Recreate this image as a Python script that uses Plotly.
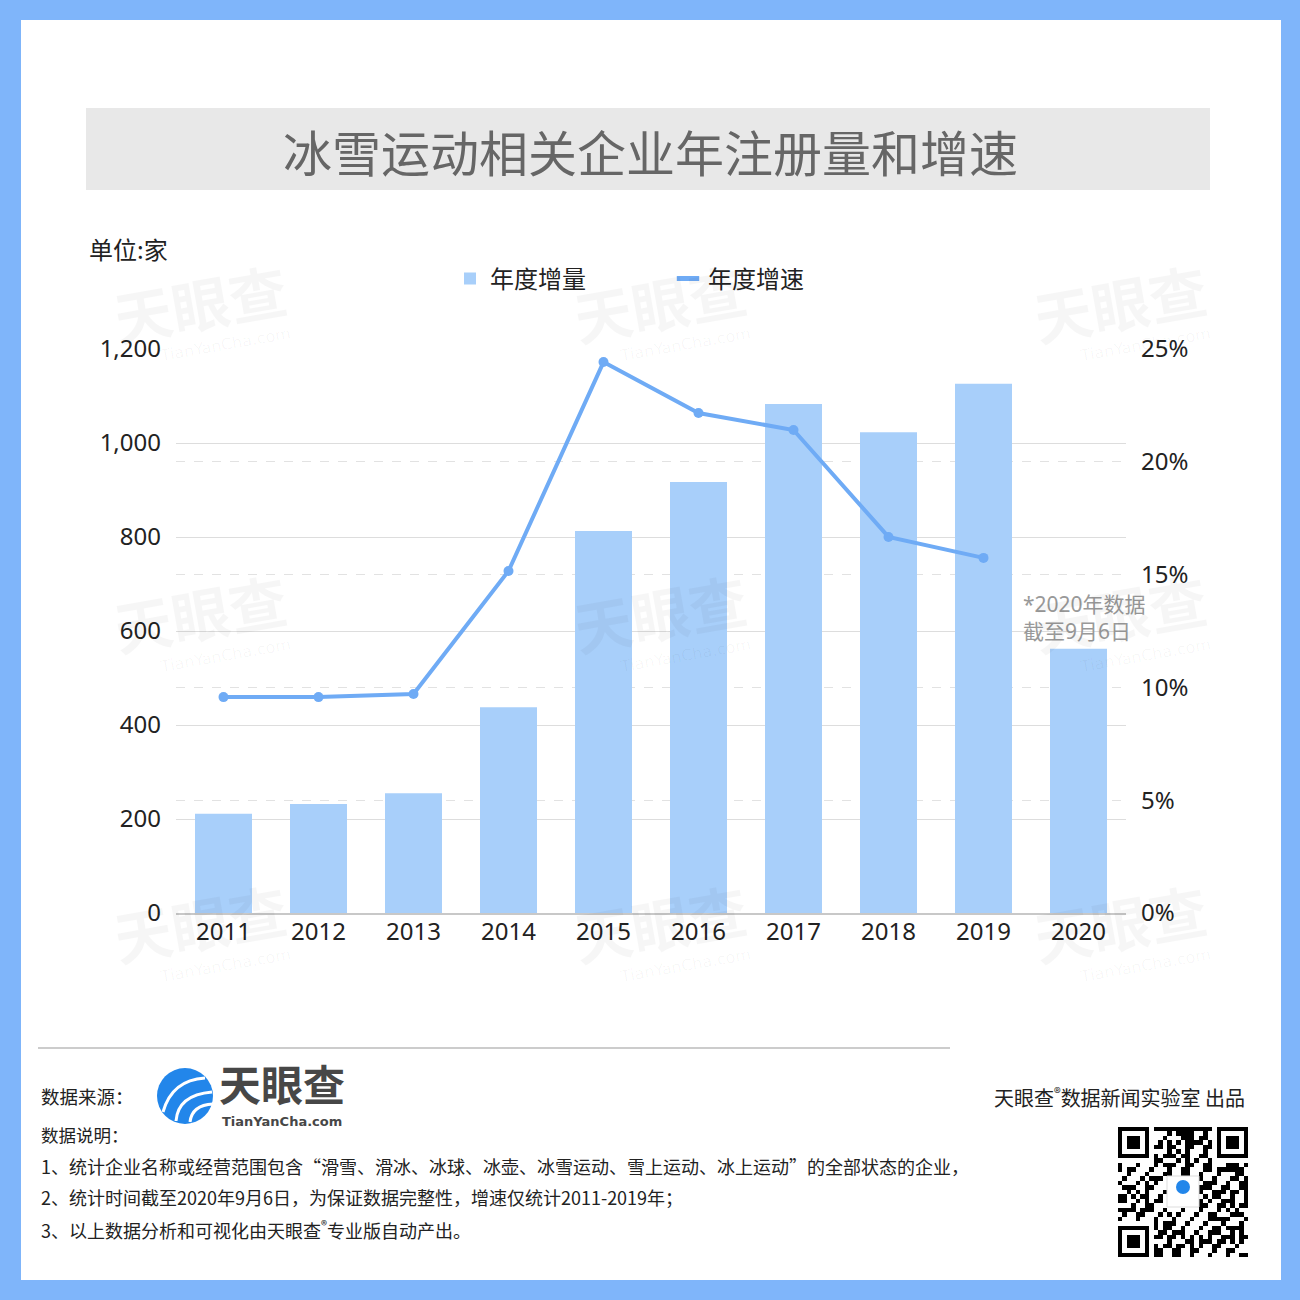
import plotly.graph_objects as go

years = ["2011", "2012", "2013", "2014", "2015", "2016", "2017", "2018", "2019", "2020"]
registrations = [211, 232, 255, 438, 813, 917, 1083, 1023, 1126, 562]
growth_years = ["2011", "2012", "2013", "2014", "2015", "2016", "2017", "2018", "2019"]
growth_rate = [0.0957, 0.0957, 0.0971, 0.1516, 0.2442, 0.2216, 0.2141, 0.1667, 0.1574]

left_ticks = [0, 200, 400, 600, 800, 1000, 1200]
right_ticks = [0, 0.05, 0.10, 0.15, 0.20, 0.25]

W = H = 1300
def px(x): return x / W
def py(y): return 1 - y / H

FONT = "Noto Sans, Noto Sans CJK SC, sans-serif"
CJK = "Noto Sans CJK SC, sans-serif"
BLUE_FRAME = "#7FB5FA"
BAR = "#A8CFFA"
LINE = "#6FABF5"

fig = go.Figure()
fig.add_trace(go.Bar(x=years, y=registrations, name="年度增量", marker_color=BAR,
                     marker_line_width=0, yaxis="y", hoverinfo="skip"))
fig.add_trace(go.Scatter(x=growth_years, y=growth_rate, name="年度增速", mode="lines+markers",
                         line=dict(color=LINE, width=4), marker=dict(size=10, color=LINE),
                         yaxis="y2", showlegend=False, hoverinfo="skip"))
# legend entry for the line (short dash only)
fig.add_trace(go.Scatter(x=[None], y=[None], name="年度增速", mode="markers",
                         marker=dict(symbol="line-ew", size=16, color=LINE,
                                     line=dict(color=LINE, width=5)),
                         yaxis="y2"))

# QR-like decoration (not data)
n = 29
qr = [[0] * n for _ in range(n)]
for i in range(n):
    for j in range(n):
        v = (i * 7 + j * 11 + (i * j) % 5 + (i ^ j)) % 3
        qr[i][j] = 1 if v == 0 or (i + j) % 4 == 0 else 0
def finder(r0, c0):
    for i in range(7):
        for j in range(7):
            on = i in (0, 6) or j in (0, 6) or (2 <= i <= 4 and 2 <= j <= 4)
            qr[r0 + i][c0 + j] = 1 if on else 0
    for k in range(-1, 8):
        for (a, b) in [(r0 - 1, c0 + k), (r0 + 7, c0 + k), (r0 + k, c0 - 1), (r0 + k, c0 + 7)]:
            if 0 <= a < n and 0 <= b < n:
                qr[a][b] = 0
finder(0, 0); finder(0, n - 7); finder(n - 7, 0)
for i in range(11, 18):
    for j in range(11, 18):
        qr[i][j] = 0
fig.add_trace(go.Heatmap(z=qr[::-1], xaxis="x3", yaxis="y3", showscale=False,
                         colorscale=[[0, "white"], [1, "black"]], hoverinfo="skip"))

def P(x, y):
    return f"{px(x)},{py(y)}"

shapes = [
    dict(type="rect", xref="paper", yref="paper", x0=px(21), x1=px(1281), y0=py(1280), y1=py(20),
         fillcolor="white", line_width=0, layer="below"),
    dict(type="rect", xref="paper", yref="paper", x0=px(86), x1=px(1210), y0=py(190), y1=py(108),
         fillcolor="#E8E8E8", line_width=0, layer="below"),
    dict(type="line", xref="paper", yref="paper", x0=px(38), x1=px(950), y0=py(1048), y1=py(1048),
         line=dict(color="#CCCCCC", width=2)),
    # logo icon
    dict(type="circle", xref="paper", yref="paper", x0=px(157), x1=px(213), y0=py(1124), y1=py(1068),
         fillcolor="#2286EA", line_width=0),
    dict(type="path", xref="paper", yref="paper",
         path=f"M{P(163,1112)} Q{P(172,1080)} {P(205,1078)}", line=dict(color="white", width=3)),
    dict(type="path", xref="paper", yref="paper",
         path=f"M{P(176,1121)} Q{P(178,1095)} {P(212,1092)}", line=dict(color="white", width=3)),
    dict(type="path", xref="paper", yref="paper",
         path=f"M{P(190,1122)} Q{P(192,1105)} {P(213,1104)}", line=dict(color="white", width=3)),
    # QR center logo
    dict(type="rect", xref="paper", yref="paper", x0=px(1167), x1=px(1199), y0=py(1207), y1=py(1176),
         fillcolor="white", line=dict(color="#DDDDDD", width=1)),
    dict(type="circle", xref="paper", yref="paper", x0=px(1176), x1=px(1190), y0=py(1194), y1=py(1180),
         fillcolor="#2286EA", line_width=0),
]

def ann(text, x, y, size, color="#222222", xanchor="left", family=CJK, **kw):
    return dict(text=text, x=px(x), y=py(y), xref="paper", yref="paper", xanchor=xanchor,
                yanchor="middle", showarrow=False, font=dict(family=family, size=size, color=color), **kw)

annotations = [
    ann("冰雪运动相关企业年注册量和增速", 650, 150, 49, "#666666", xanchor="center"),
    ann("单位:家", 87, 248, 24),
    ann("*2020年数据<br>截至9月6日", 1021, 617, 21, "#999999", family=FONT, align="left"),
    ann("数据来源：", 39, 1096, 18.5),
    ann("<b>天眼查</b>", 217, 1082, 42, "#474747"),
    ann("<b>TianYanCha.com</b>", 220, 1121, 13, "#474747", family="DejaVu Sans"),
    ann("数据说明：", 39, 1134, 17.5),
    ann("1、统计企业名称或经营范围包含“滑雪、滑冰、冰球、冰壶、冰雪运动、雪上运动、冰上运动”的全部状态的企业，",
        39, 1166, 18),
    ann("2、统计时间截至2020年9月6日，为保证数据完整性，增速仅统计2011-2019年；", 39, 1197, 18),
    ann("3、以上数据分析和可视化由天眼查<sup>®</sup>专业版自动产出。", 39, 1229, 18),
    ann("天眼查<sup>®</sup>数据新闻实验室 出品", 1247, 1097, 20, xanchor="right"),
]

# faint watermarks
for wx in (180, 640, 1100):
    for wy in (310, 620, 930):
        annotations.append(ann("<b>天眼查</b>", wx + 20, wy - 8, 58, "rgba(0,0,0,0.035)",
                               xanchor="center", textangle=-10))
        annotations.append(ann("TianYanCha.com", wx + 45, wy + 35, 16, "rgba(0,0,0,0.035)",
                               xanchor="center", family="DejaVu Sans", textangle=-10))

fig.update_layout(
    width=W, height=H, autosize=False,
    margin=dict(l=0, r=0, t=0, b=0, pad=0, autoexpand=False),
    paper_bgcolor=BLUE_FRAME, plot_bgcolor="rgba(0,0,0,0)",
    font=dict(family=FONT, size=24, color="#222222"),
    bargap=0.4,
    showlegend=True,
    legend=dict(orientation="h", x=px(450), y=py(279), xanchor="left", yanchor="middle",
                font=dict(family=CJK, size=24, color="#222222"), bgcolor="rgba(0,0,0,0)",
                entrywidth=173, entrywidthmode="pixels", itemwidth=30),
    xaxis=dict(domain=[px(176), px(1126)], type="category", range=[-0.5, 9.5], autorange=False,
               showgrid=False, automargin=False,
               showline=True, linecolor="#C8C8C8", linewidth=2, ticks="", ticklen=0,
               tickfont=dict(family=FONT, size=24, color="#222222"), ticklabelstandoff=-4),
    yaxis=dict(domain=[py(913), py(349)], range=[0, 1200], tickvals=left_ticks, tickformat=",d",
               showgrid=True, gridcolor="#DDDDDD", gridwidth=1, zeroline=False, showline=False,
               automargin=False, ticks="", tickfont=dict(family=FONT, size=24, color="#222222"),
               ticklabelstandoff=14),
    yaxis2=dict(overlaying="y", side="right", range=[0, 0.25], tickvals=right_ticks, tickformat=".0%",
                showgrid=True, gridcolor="#E2E2E2", griddash="dash", gridwidth=1, zeroline=False,
                showline=False, automargin=False, ticks="",
                tickfont=dict(family=FONT, size=24, color="#222222"), ticklabelstandoff=14),
    xaxis3=dict(domain=[px(1118), px(1248)], visible=False, anchor="y3", fixedrange=True, automargin=False),
    yaxis3=dict(domain=[py(1257), py(1127)], visible=False, anchor="x3", fixedrange=True, automargin=False),
    shapes=shapes,
    annotations=annotations,
)

fig.write_html("out.html")
